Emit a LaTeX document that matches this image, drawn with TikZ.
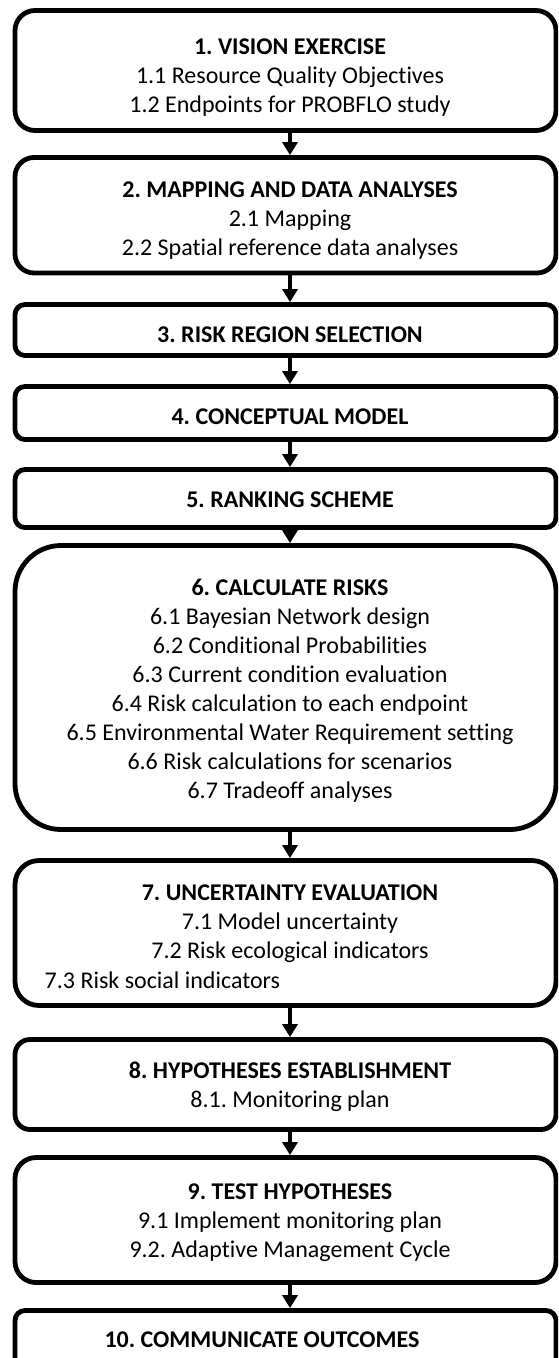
\documentclass[tikz,border=0pt]{standalone}
\usepackage{fontspec}
\setmainfont{Carlito}[Ligatures={NoCommon}]
\usetikzlibrary{arrows.meta}
\newcommand\stagestrut{\rule{0pt}{16pt}}
\frenchspacing
\begin{document}
\begin{tikzpicture}[x=1pt,y=-1pt,
  stage/.style={draw=black, fill=white, line width=4.8pt, rectangle,
    minimum width=541pt, inner sep=0pt},
  steptext/.style={anchor=north, align=center, inner sep=0pt,
    font=\fontsize{24}{29}\selectfont\frenchspacing, execute at begin node=\stagestrut},
  flow/.style={line width=4pt, -{Triangle[width=15pt,length=13pt]}}
]
\clip (0,0) rectangle (558,1358);
\fill[white] (0,0) rectangle (558,1358);
\coordinate (axis) at (290,0);

% stage frames
\node[stage, minimum height=120pt,   rounded corners=20pt] (s1)  at (285.5,70.5)   {};
\node[stage, minimum height=115.5pt, rounded corners=19pt] (s2)  at (285.5,215.25) {};
\node[stage, minimum height=51pt,    rounded corners=10pt] (s3)  at (285.5,330)    {};
\node[stage, minimum height=53pt,    rounded corners=10pt] (s4)  at (285.5,413)    {};
\node[stage, minimum height=58pt,    rounded corners=10pt] (s5)  at (285.5,498.5)  {};
\node[stage, minimum height=284pt,   rounded corners=46pt] (s6)  at (285.5,687.5)  {};
\node[stage, minimum height=145pt,   rounded corners=24pt] (s7)  at (285.5,933)    {};
\node[stage, minimum height=90pt,    rounded corners=15pt] (s8)  at (285.5,1084.5) {};
\node[stage, minimum height=125pt,   rounded corners=21pt] (s9)  at (285.5,1220)   {};
\node[stage, minimum height=60pt,    rounded corners=10pt] (s10) at (285.5,1340.5) {};

% stage texts
\node[steptext] (t1) at (290,38.75) {\textbf{1. VISION EXERCISE}\\1.1 Resource Quality Objectives\\1.2 Endpoints for PROBFLO study};
\node[steptext] (t2) at (290,181.75) {\textbf{2. MAPPING AND DATA ANALYSES}\\2.1 Mapping\\2.2 Spatial reference data analyses};
\node[steptext] (t3) at (290,326.75) {\textbf{3. RISK REGION SELECTION}};
\node[steptext] (t4) at (290,408.75) {\textbf{4. CONCEPTUAL MODEL}};
\node[steptext] (t5) at (290,491.75) {\textbf{5. RANKING SCHEME}};
\node[steptext] (t6) at (290,578.75) {\textbf{6. CALCULATE RISKS}\\6.1 Bayesian Network design\\6.2 Conditional Probabilities\\6.3 Current condition evaluation\\6.4 Risk calculation to each endpoint\\6.5 Environmental Water Requirement setting\\6.6 Risk calculations for scenarios\\6.7 Tradeoff analyses};
\node[steptext] (t7) at (290,884.75) {\textbf{7. UNCERTAINTY EVALUATION}\\7.1 Model uncertainty\\7.2 Risk ecological indicators};
\node[anchor=base west, inner sep=0pt, font=\fontsize{24}{29}\selectfont\frenchspacing] (t7c) at (44.5,988) {7.3 Risk social indicators};
\node[steptext] (t8) at (290,1061.75) {\textbf{8. HYPOTHESES ESTABLISHMENT}\\8.1. Monitoring plan};
\node[steptext] (t9) at (290,1183.75) {\textbf{9. TEST HYPOTHESES}\\9.1 Implement monitoring plan\\9.2. Adaptive Management Cycle};
\node[steptext] (t10) at (262,1331.75) {\textbf{10. COMMUNICATE OUTCOMES}};

% connectors
\draw[flow] (s1.south -| axis) -- (s2.north -| axis);
\draw[flow] (s2.south -| axis) -- (s3.north -| axis);
\draw[flow] (s3.south -| axis) -- (s4.north -| axis);
\draw[flow] (s4.south -| axis) -- (s5.north -| axis);
\draw[flow] (s5.south -| axis) -- (s6.north -| axis);
\draw[flow] (s6.south -| axis) -- (s7.north -| axis);
\draw[flow] (s7.south -| axis) -- (s8.north -| axis);
\draw[flow] (s8.south -| axis) -- (s9.north -| axis);
\draw[flow] (s9.south -| axis) -- (s10.north -| axis);
\end{tikzpicture}
\end{document}
